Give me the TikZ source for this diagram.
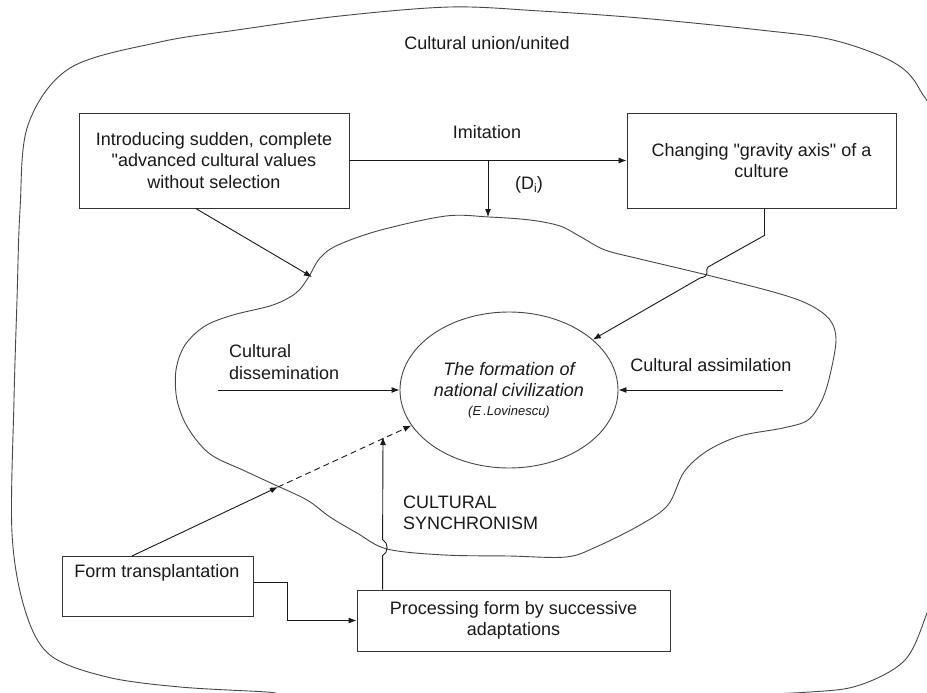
\documentclass[tikz,border=0pt]{standalone}
\usepackage{fontspec}
\newfontfamily\af{Liberation Sans}
\usetikzlibrary{arrows.meta,calc,shapes.geometric}
\newcommand\fs{\af\fontsize{18}{21.5}\selectfont}
\tikzset{
  box/.style={draw=black!80, line width=0.8pt, align=center, inner sep=0pt, font=\fs, text=black!90},
  lbl/.style={inner sep=0pt, font=\fs, text=black!90},
  arr/.style={-{Latex[length=8pt,width=6pt]}, line width=0.9pt, draw=black!90},
  blob/.style={draw=black!72, line width=0.9pt},
}
\begin{document}
\begin{tikzpicture}[x=1pt,y=-1pt]
\useasboundingbox (0,0) rectangle (927,693);
\clip (0,0) rectangle (927,693);
\fill[white] (0,0) rectangle (927,693);

% outer blob
\draw[blob] plot[smooth cycle, tension=0.55] coordinates {
 (20,210) (28,125) (70,68) (160,42) (237,30) (340,16) (450,7) (540,11) (640,18)
 (760,30) (833,40) (893,62) (920,90) (940,150) (948,400) (940,570) (927,613)
 (905,660) (860,685) (810,692) (700,696) (500,698) (300,695) (267,692) (180,687)
 (107,677) (50,655) (25,610) (12,533) (14,400) (17,300)};

% inner blob
\draw[blob] plot[smooth cycle, tension=0.55] coordinates {
 (233,315) (273,305) (296,293) (308,278) (320,258) (338,245) (381,230)
 (446,216) (489,217) (530,220) (560,226) (581,237) (605,250) (640,259) (707,275)
 (777,293) (810,305) (830,320) (836,340) (830,375) (822,400) (808,420) (783,428)
 (740,436) (707,451) (684,472) (668,505) (640,525) (596,547) (566,557) (509,556)
 (444,555) (387,549) (357,533) (330,517) (307,500) (273,484) (245,471) (210,454)
 (188,428) (177,400) (176,370) (185,345) (205,326)};

% texts
\node[lbl] (title) at (487,43) {Cultural union/united};
\node[lbl] (imit) at (487,132) {Imitation};
\node[lbl] (di) at (529,185) {(D\raisebox{-0.3ex}{\fontsize{12}{12}\selectfont i})};
\node[lbl, align=left, anchor=west] (diss) at (229,362) {Cultural\\dissemination};
\node[lbl] (assim) at (711,365) {Cultural assimilation};
\node[lbl, align=left, anchor=west] (sync) at (403,513) {CULTURAL\\SYNCHRONISM};

% boxes
\node[box, minimum width=270, minimum height=95] (intro) at (214,160.5)
  {Introducing sudden, complete\\"advanced cultural values\\without selection};
\node[box, minimum width=269, minimum height=95] (chg) at (761.5,160.5)
  {Changing "gravity axis" of a\\culture};
\node[box, minimum width=191, minimum height=60, anchor=north west] (ft) at (62,556) {};
\node[lbl] (ftl) at (157,573) {Form transplantation};
\node[box, minimum width=313, minimum height=61] (proc) at (513.5,620.5)
  {Processing form by successive\\adaptations};

% central ellipse
\node[ellipse, draw=black!72, line width=0.9pt, minimum width=218, minimum height=156,
      inner sep=0pt, align=center, font=\fs\itshape, text=black!90] (ell) at (509,390)
  {The formation of\\national civilization\\[-3pt]{\fontsize{13}{14}\selectfont\itshape (E\,.Lovinescu)}};

% coordinates
\coordinate (t1) at (312,277);
\coordinate (imj) at ($(intro.east)!0.5!(chg.west)$);
\coordinate (t2) at (489,217);
\coordinate (d0) at (218,390);
\coordinate (a0) at (783,390);
\coordinate (t3) at (278,487);
\coordinate (s1) at (383,437);

% connectors
\draw[arr] ($(intro.south west)+(117,0)$) -- (t1);
\draw[arr] (intro.east) -- (chg.west);
\draw[arr] (imj) -- (imj |- t2);
\draw[arr] ($(chg.south)+(3,0)$) -- ++(0,27) -- (708,267)
   .. controls (704,270) and (712,276) .. (700,278) -- (ell.31);
\draw[arr] (d0) -- (ell.west);
\draw[arr] (a0) -- (ell.east);
\draw[arr] ($(ft.north west)+(70,0)$) -- (t3);
\draw[arr, dash pattern=on 6pt off 4pt] (t3) -- (ell.200);
\draw[arr] (ft.east) ++(0,-4) -- ++(34,0) |- (proc.west);
\draw[arr] ($(proc.north west)+(26,0)$) -- ++(0,-34)
   .. controls ++(6,-3) and ++(6,3) .. ++(0,-16) -- (s1);
\end{tikzpicture}
\end{document}
